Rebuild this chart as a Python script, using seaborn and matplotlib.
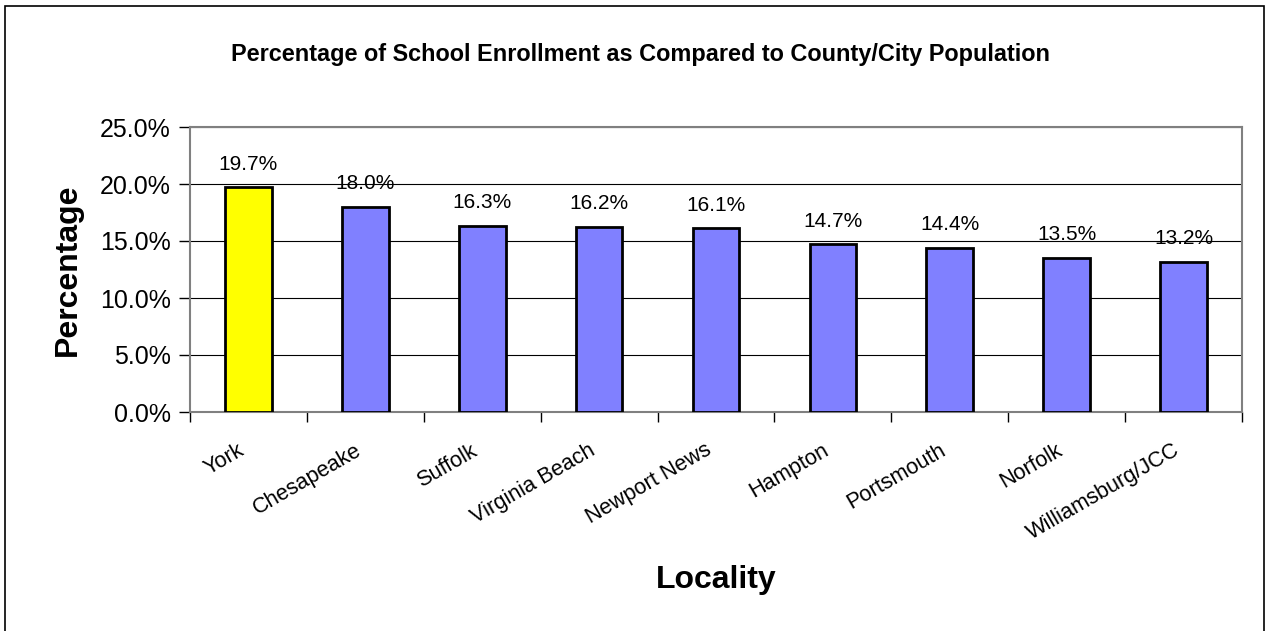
import matplotlib
matplotlib.use("Agg")
import matplotlib.pyplot as plt
import matplotlib.transforms as mtransforms
import seaborn as sns
import pandas as pd
from matplotlib.patches import Rectangle
from matplotlib.ticker import FuncFormatter, FixedLocator

localities = ["York", "Chesapeake", "Suffolk", "Virginia Beach", "Newport News",
              "Hampton", "Portsmouth", "Norfolk", "Williamsburg/JCC"]
percentages = [19.7, 18.0, 16.3, 16.2, 16.1, 14.7, 14.4, 13.5, 13.2]
bar_colors = ["#FFFF00"] + ["#8080FF"] * 8
y_ticks = [0, 5, 10, 15, 20, 25]

sns.set_theme(style="white")
plt.rcParams['font.family'] = ['Liberation Sans', 'DejaVu Sans']
plt.rcParams['text.color'] = 'black'
plt.rcParams['axes.labelcolor'] = 'black'
plt.rcParams['xtick.color'] = 'black'
plt.rcParams['ytick.color'] = 'black'

df = pd.DataFrame({"Locality": localities, "Percentage": percentages})

fig = plt.figure(figsize=(12.7, 6.31), dpi=100)
ax = fig.add_axes([190/1270, 1-412/631, (1242-190)/1270, (412-127)/631])

sns.barplot(data=df, x="Locality", y="Percentage", hue="Locality",
            palette=bar_colors, legend=False, width=0.4,
            edgecolor="black", linewidth=2, ax=ax, saturation=1, zorder=3)

ax.set_ylim(0, 25)
ax.set_xlim(-0.5, len(localities) - 0.5)
ax.yaxis.set_major_locator(FixedLocator(y_ticks))
ax.yaxis.set_major_formatter(FuncFormatter(lambda v, p: f"{v:.1f}%"))
ax.grid(axis="y", color="black", linewidth=0.8, zorder=0)
ax.set_axisbelow(True)

for s in ax.spines.values():
    s.set_color("#808080")
    s.set_linewidth(1.5)
    s.set_visible(True)

ax.tick_params(axis="y", which="major", direction="out", length=8, width=1,
               color="black", labelsize=18, pad=6, left=True, labelcolor="black")
ax.set_xticks(range(len(localities)))
ax.set_xticklabels(localities, rotation=30, ha="right", rotation_mode="anchor",
                   fontsize=15.7, color="black")
ax.tick_params(axis="x", which="major", length=0, pad=20)
ax.set_xticks([i - 0.5 for i in range(len(localities) + 1)], minor=True)
ax.tick_params(axis="x", which="minor", direction="out", length=7, width=1,
               color="black", bottom=True)
shift = mtransforms.ScaledTranslation(-11/100, 0, fig.dpi_scale_trans)
for lbl in ax.get_xticklabels():
    lbl.set_transform(lbl.get_transform() + shift)

for i, v in enumerate(percentages):
    ax.annotate(f"{v:.1f}%", (i, v), xytext=(0, 10), textcoords="offset points",
                ha="center", va="bottom", fontsize=15, color="black")

ax.set_xlabel("Locality", fontsize=23, fontweight="bold", labelpad=15, color="black")
ax.set_ylabel("Percentage", fontsize=23, fontweight="bold", labelpad=12, color="black")

fig.text(0.504, 1-54/631, "Percentage of School Enrollment as Compared to County/City Population",
         ha="center", va="center", fontsize=16.9, fontweight="bold", color="black")

fig.patches.append(Rectangle((5/1270, -0.02), 1259/1270, 1.02-6/631, transform=fig.transFigure,
                             fill=False, edgecolor="black", linewidth=1.2))

fig.savefig("out.png", dpi=100)
